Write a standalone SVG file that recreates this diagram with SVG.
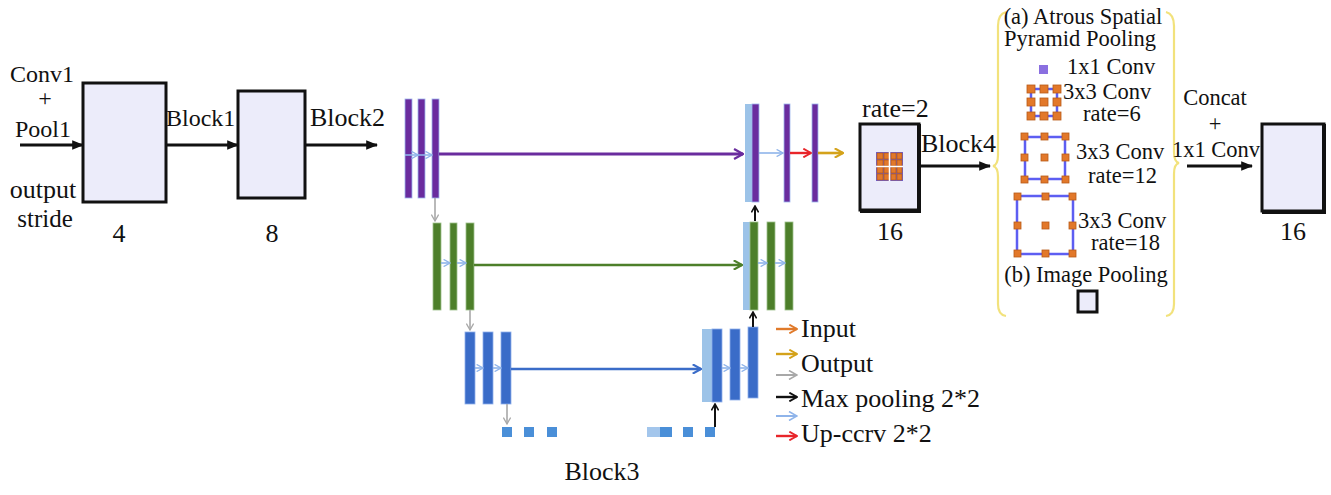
<svg xmlns="http://www.w3.org/2000/svg" width="1331" height="495" viewBox="0 0 1331 495">
  <style>
    text { font-family: "Liberation Serif", "Times New Roman", serif; fill: #111; }
    .t24 { font-size: 24px; }
    .t25 { font-size: 25px; }
    .t26 { font-size: 26px; }
    .t22 { font-size: 22.5px; }
    .mid { text-anchor: middle; }
    .box { fill: #ececfa; stroke: #111; stroke-width: 3; }
    .blk { stroke: #111; stroke-width: 3; fill: none; }
    .pur { fill: #6a2c9e; stroke: #9fb6ee; stroke-width: 0.8; }
    .grn { fill: #4d7f2a; stroke: #9fc08c; stroke-width: 0.8; }
    .blu { fill: #3a6cc8; stroke: #8fb0ea; stroke-width: 0.8; }
    .lbl { fill: #9cc3e8; }
    .dot { fill: #4a8fd8; }
    .dotl { fill: #a3c6ec; }
    .sq { fill: #e2782a; stroke: #b85a18; stroke-width: 0.8; }
    .ring { fill: none; stroke: #5d5ef2; stroke-width: 2.5; }
    .brace { fill: none; stroke: #f2e27c; stroke-width: 2.2; }
    .lb { stroke: #8fb4ea; stroke-width: 1.6; fill: none; }
  </style>
  <defs>
    <marker id="ahBlack" viewBox="0 0 10 10" refX="9" refY="5" markerWidth="4" markerHeight="4" orient="auto">
      <path d="M0,1 L10,5 L0,9 z" fill="#111"/>
    </marker>
    <marker id="chPur" viewBox="0 0 10 10" refX="9" refY="5" markerWidth="4" markerHeight="4" orient="auto" markerUnits="strokeWidth">
      <path d="M1,0.5 L9,5 L1,9.5" fill="none" stroke="#6a2c9e" stroke-width="2"/>
    </marker>
    <marker id="chGrn" viewBox="0 0 10 10" refX="9" refY="5" markerWidth="4" markerHeight="4" orient="auto" markerUnits="strokeWidth">
      <path d="M1,0.5 L9,5 L1,9.5" fill="none" stroke="#4d7f2a" stroke-width="2"/>
    </marker>
    <marker id="chBlu" viewBox="0 0 10 10" refX="9" refY="5" markerWidth="4" markerHeight="4" orient="auto" markerUnits="strokeWidth">
      <path d="M1,0.5 L9,5 L1,9.5" fill="none" stroke="#3a6cc8" stroke-width="2"/>
    </marker>
    <marker id="chLb" viewBox="0 0 10 10" refX="9" refY="5" markerWidth="5" markerHeight="5" orient="auto" markerUnits="strokeWidth">
      <path d="M1,0.5 L9,5 L1,9.5" fill="none" stroke="#8fb4ea" stroke-width="1.6"/>
    </marker>
    <marker id="chRed" viewBox="0 0 10 10" refX="9" refY="5" markerWidth="4" markerHeight="4" orient="auto" markerUnits="strokeWidth">
      <path d="M1,0.5 L9,5 L1,9.5" fill="none" stroke="#e8252a" stroke-width="2"/>
    </marker>
    <marker id="chGold" viewBox="0 0 10 10" refX="9" refY="5" markerWidth="4" markerHeight="4" orient="auto" markerUnits="strokeWidth">
      <path d="M1,0.5 L9,5 L1,9.5" fill="none" stroke="#d4a21a" stroke-width="2"/>
    </marker>
    <marker id="chOra" viewBox="0 0 10 10" refX="9" refY="5" markerWidth="4" markerHeight="4" orient="auto" markerUnits="strokeWidth">
      <path d="M1,0.5 L9,5 L1,9.5" fill="none" stroke="#e07a2a" stroke-width="2"/>
    </marker>
    <marker id="chGray" viewBox="0 0 10 10" refX="9" refY="5" markerWidth="5" markerHeight="5" orient="auto" markerUnits="strokeWidth">
      <path d="M1,0.5 L9,5 L1,9.5" fill="none" stroke="#a8a8a8" stroke-width="1.6"/>
    </marker>
    <marker id="chBlk" viewBox="0 0 10 10" refX="9" refY="5" markerWidth="4" markerHeight="4" orient="auto" markerUnits="strokeWidth">
      <path d="M1,0.5 L9,5 L1,9.5" fill="none" stroke="#111" stroke-width="2"/>
    </marker>
  </defs>

  <!-- stem: Conv1 + Pool1 -->
  <g id="stem">
    <text class="t24 mid" x="42" y="82">Conv1</text>
    <text class="t24 mid" x="45" y="106">+</text>
    <text class="t24 mid" x="43" y="137">Pool1</text>
    <text class="t26 mid" x="43" y="198">output</text>
    <text class="t25 mid" x="45" y="227">stride</text>
    <rect class="box" x="83" y="83" width="83" height="119"/>
    <text class="t26 mid" x="119" y="242">4</text>
  </g>

  <g id="block1">
    <text class="t24" x="166" y="126">Block1</text>
    <rect class="box" x="238" y="91" width="67" height="107"/>
    <text class="t26 mid" x="272" y="242">8</text>
  </g>

  <g id="block2">
    <text class="t26" x="310" y="126">Block2</text>
  </g>

  <!-- Block3: U-shaped encoder / decoder -->
  <g id="block3">
    <!-- level 1 encoder -->
    <rect class="pur" x="405" y="99" width="7" height="99"/>
    <rect class="pur" x="418" y="99" width="7" height="99"/>
    <rect class="pur" x="432" y="99" width="7" height="99"/>
    <!-- level 1 decoder -->
    <rect class="lbl" x="745" y="104" width="8" height="98"/>
    <rect class="pur" x="752" y="104" width="7" height="98"/>
    <rect class="pur" x="784" y="104" width="6" height="98"/>
    <rect class="pur" x="812" y="104" width="6" height="98"/>
    <!-- level 2 encoder -->
    <rect class="grn" x="433" y="223" width="8" height="87"/>
    <rect class="grn" x="450" y="223" width="7" height="87"/>
    <rect class="grn" x="466" y="223" width="8" height="87"/>
    <!-- level 2 decoder -->
    <rect class="lbl" x="743" y="222" width="8" height="88"/>
    <rect class="grn" x="750" y="222" width="8" height="88"/>
    <rect class="grn" x="767" y="222" width="8" height="88"/>
    <rect class="grn" x="785" y="222" width="8" height="88"/>
    <!-- level 3 encoder -->
    <rect class="blu" x="465" y="332" width="10" height="72"/>
    <rect class="blu" x="483" y="332" width="10" height="72"/>
    <rect class="blu" x="501" y="332" width="10" height="72"/>
    <!-- level 3 decoder -->
    <rect class="lbl" x="702" y="329" width="11" height="73"/>
    <rect class="blu" x="712" y="329" width="10" height="73"/>
    <rect class="blu" x="730" y="329" width="10" height="71"/>
    <rect class="blu" x="748" y="327" width="10" height="71"/>
    <!-- deeper levels -->
    <rect class="dot" x="502" y="427" width="10" height="10"/>
    <rect class="dot" x="524" y="427" width="10" height="10"/>
    <rect class="dot" x="547" y="427" width="10" height="10"/>
    <rect class="dotl" x="647" y="427" width="13" height="10"/>
    <rect class="dot" x="660" y="427" width="12" height="10"/>
    <rect class="dot" x="683" y="427" width="10" height="10"/>
    <rect class="dot" x="705" y="427" width="10" height="10"/>
    <text class="t26 mid" x="602" y="480">Block3</text>
  </g>

  <!-- legend -->
  <g id="legend">
    <line x1="776" y1="329" x2="797" y2="329" stroke="#e07a2a" stroke-width="2.4" marker-end="url(#chOra)"/>
    <line x1="776" y1="354" x2="797" y2="354" stroke="#d4a21a" stroke-width="2.4" marker-end="url(#chGold)"/>
    <line x1="776" y1="375" x2="797" y2="375" stroke="#a8a8a8" stroke-width="2" marker-end="url(#chGray)"/>
    <line x1="776" y1="397" x2="797" y2="397" stroke="#111" stroke-width="2.4" marker-end="url(#chBlk)"/>
    <line x1="776" y1="416" x2="797" y2="416" stroke="#8fb4ea" stroke-width="2" marker-end="url(#chLb)"/>
    <line x1="776" y1="436" x2="797" y2="436" stroke="#e8252a" stroke-width="2.4" marker-end="url(#chRed)"/>
    <text class="t26" x="801" y="337">Input</text>
    <text class="t26" x="801" y="372">Output</text>
    <text class="t26" x="801" y="407">Max pooling 2*2</text>
    <text class="t26" x="801" y="442">Up-ccrv 2*2</text>
  </g>

  <!-- Block4 input feature map with rate=2 kernel -->
  <g id="block4">
    <text class="t26" x="862" y="117">rate=2</text>
    <rect class="box" x="860" y="124" width="59" height="86"/>
    <path d="M919,124 V211 H860" fill="none" stroke="#111" stroke-width="4"/>
    <rect x="876" y="152" width="27" height="29" fill="#5d5ef2"/>
    <g class="sq">
      <rect x="877" y="153" width="6" height="6"/><rect x="884" y="153" width="6" height="6"/><rect x="891" y="153" width="5" height="6"/><rect x="897" y="153" width="5" height="6"/>
      <rect x="877" y="160" width="6" height="6"/><rect x="884" y="160" width="6" height="6"/><rect x="891" y="160" width="5" height="6"/><rect x="897" y="160" width="5" height="6"/>
      <rect x="877" y="167" width="6" height="6"/><rect x="884" y="167" width="6" height="6"/><rect x="891" y="167" width="5" height="6"/><rect x="897" y="167" width="5" height="6"/>
      <rect x="877" y="174" width="6" height="6"/><rect x="884" y="174" width="6" height="6"/><rect x="891" y="174" width="5" height="6"/><rect x="897" y="174" width="5" height="6"/>
    </g>
    <path d="M876,166.5 H903 M889.5,152 V181" stroke="#fff" stroke-width="1.5"/>
    <text class="t26 mid" x="890" y="240">16</text>
    <text class="t26" x="921" y="152">Block4</text>
  </g>

  <!-- Atrous Spatial Pyramid Pooling -->
  <g id="aspp">
    <path class="brace" d="M1006,12 Q998,14 998,26 L998,155 Q998,165 993,166 Q998,167 998,177 L998,304 Q998,315 1006,316"/>
    <path class="brace" d="M1166,12 Q1174,14 1174,26 L1174,152 Q1174,162 1179,163 Q1174,164 1174,174 L1174,304 Q1174,315 1166,316"/>
    <text class="t22 mid" x="1083" y="24">(a) Atrous Spatial</text>
    <text class="t22 mid" x="1080" y="46">Pyramid Pooling</text>

    <rect x="1039" y="65" width="9" height="9" fill="#8a6fe0"/>
    <text class="t22" x="1067" y="74">1x1 Conv</text>

    <rect class="ring" x="1031" y="89" width="26" height="27"/>
    <g class="sq">
      <rect x="1027" y="85" width="8" height="8"/><rect x="1040" y="85" width="8" height="8"/><rect x="1053" y="85" width="8" height="8"/>
      <rect x="1027" y="98" width="8" height="8"/><rect x="1040" y="98" width="8" height="8"/><rect x="1053" y="98" width="8" height="8"/>
      <rect x="1027" y="112" width="8" height="8"/><rect x="1040" y="112" width="8" height="8"/><rect x="1053" y="112" width="8" height="8"/>
    </g>
    <text class="t22" x="1063" y="99">3x3 Conv</text>
    <text class="t22" x="1083" y="121">rate=6</text>

    <rect class="ring" x="1025" y="137" width="40" height="42"/>
    <g class="sq">
      <rect x="1021" y="133" width="7" height="7"/><rect x="1041" y="133" width="7" height="7"/><rect x="1062" y="133" width="7" height="7"/>
      <rect x="1021" y="154" width="7" height="7"/><rect x="1041" y="154" width="7" height="7"/><rect x="1062" y="154" width="7" height="7"/>
      <rect x="1021" y="176" width="7" height="7"/><rect x="1041" y="176" width="7" height="7"/><rect x="1062" y="176" width="7" height="7"/>
    </g>
    <text class="t22" x="1076" y="159">3x3 Conv</text>
    <text class="t22" x="1088" y="183">rate=12</text>

    <rect class="ring" x="1017" y="196" width="56" height="58"/>
    <g class="sq">
      <rect x="1014" y="193" width="7" height="7"/><rect x="1042" y="193" width="7" height="7"/><rect x="1069" y="193" width="7" height="7"/>
      <rect x="1014" y="222" width="7" height="7"/><rect x="1042" y="222" width="7" height="7"/><rect x="1069" y="222" width="7" height="7"/>
      <rect x="1014" y="250" width="7" height="7"/><rect x="1042" y="250" width="7" height="7"/><rect x="1069" y="250" width="7" height="7"/>
    </g>
    <text class="t22" x="1078" y="228">3x3 Conv</text>
    <text class="t22" x="1091" y="250">rate=18</text>

    <text class="t22 mid" x="1086" y="282">(b) Image Pooling</text>
    <rect x="1078" y="291" width="19" height="21" fill="#ececfa" stroke="#111" stroke-width="3"/>
  </g>

  <!-- output after concatenation -->
  <g id="output">
    <text class="t22 mid" x="1215" y="105">Concat</text>
    <text class="t22 mid" x="1215" y="131">+</text>
    <text class="t22 mid" x="1216" y="157">1x1 Conv</text>
    <rect class="box" x="1262" y="124" width="62" height="87"/>
    <path d="M1324,124 V212 H1262" fill="none" stroke="#111" stroke-width="4"/>
    <text class="t26 mid" x="1293" y="240">16</text>
  </g>

  <g id="connectors">
    <!-- main path -->
    <line class="blk" x1="20" y1="145" x2="83" y2="145" marker-end="url(#ahBlack)"/>
    <line class="blk" x1="167" y1="145" x2="238" y2="145" marker-end="url(#ahBlack)"/>
    <line class="blk" x1="306" y1="145" x2="377" y2="145" marker-end="url(#ahBlack)"/>
    <line class="blk" x1="921" y1="166" x2="990" y2="166" marker-end="url(#ahBlack)"/>
    <line class="blk" x1="1187" y1="166" x2="1252" y2="166" marker-end="url(#ahBlack)"/>

    <!-- skip connections -->
    <line x1="439" y1="154" x2="743" y2="154" stroke="#6a2c9e" stroke-width="2.8" marker-end="url(#chPur)"/>
    <line x1="474" y1="265" x2="742" y2="265" stroke="#4d7f2a" stroke-width="2.6" marker-end="url(#chGrn)"/>
    <line x1="511" y1="369" x2="701" y2="369" stroke="#3a6cc8" stroke-width="2.6" marker-end="url(#chBlu)"/>

    <!-- within-level convolutions -->
    <line class="lb" x1="405" y1="155" x2="418" y2="155" marker-end="url(#chLb)"/>
    <line class="lb" x1="418" y1="155" x2="432" y2="155" marker-end="url(#chLb)"/>
    <line class="lb" x1="441" y1="263" x2="450" y2="263" marker-end="url(#chLb)"/>
    <line class="lb" x1="457" y1="263" x2="466" y2="263" marker-end="url(#chLb)"/>
    <line class="lb" x1="475" y1="368" x2="483" y2="368" marker-end="url(#chLb)"/>
    <line class="lb" x1="493" y1="368" x2="501" y2="368" marker-end="url(#chLb)"/>
    <line class="lb" x1="759" y1="153" x2="783" y2="153" marker-end="url(#chLb)"/>
    <line class="lb" x1="758" y1="263" x2="767" y2="263" marker-end="url(#chLb)"/>
    <line class="lb" x1="775" y1="263" x2="785" y2="263" marker-end="url(#chLb)"/>
    <line class="lb" x1="722" y1="368" x2="730" y2="368" marker-end="url(#chLb)"/>
    <line class="lb" x1="740" y1="368" x2="748" y2="368" marker-end="url(#chLb)"/>
    <line x1="790" y1="153" x2="811" y2="153" stroke="#e8252a" stroke-width="2.4" marker-end="url(#chRed)"/>
    <line x1="818" y1="153" x2="843" y2="153" stroke="#d4a21a" stroke-width="2.6" marker-end="url(#chGold)"/>

    <!-- downsampling -->
    <line x1="435" y1="198" x2="435" y2="221" stroke="#a8a8a8" stroke-width="1.6" marker-end="url(#chGray)"/>
    <line x1="470" y1="310" x2="470" y2="330" stroke="#a8a8a8" stroke-width="1.6" marker-end="url(#chGray)"/>
    <line x1="507" y1="404" x2="507" y2="424" stroke="#a8a8a8" stroke-width="1.6" marker-end="url(#chGray)"/>

    <!-- upsampling -->
    <line x1="755" y1="221" x2="755" y2="206" stroke="#111" stroke-width="2" marker-end="url(#chBlk)"/>
    <line x1="753" y1="327" x2="753" y2="312" stroke="#111" stroke-width="2" marker-end="url(#chBlk)"/>
    <line x1="715" y1="427" x2="715" y2="404" stroke="#111" stroke-width="2" marker-end="url(#chBlk)"/>
  </g>
</svg>
